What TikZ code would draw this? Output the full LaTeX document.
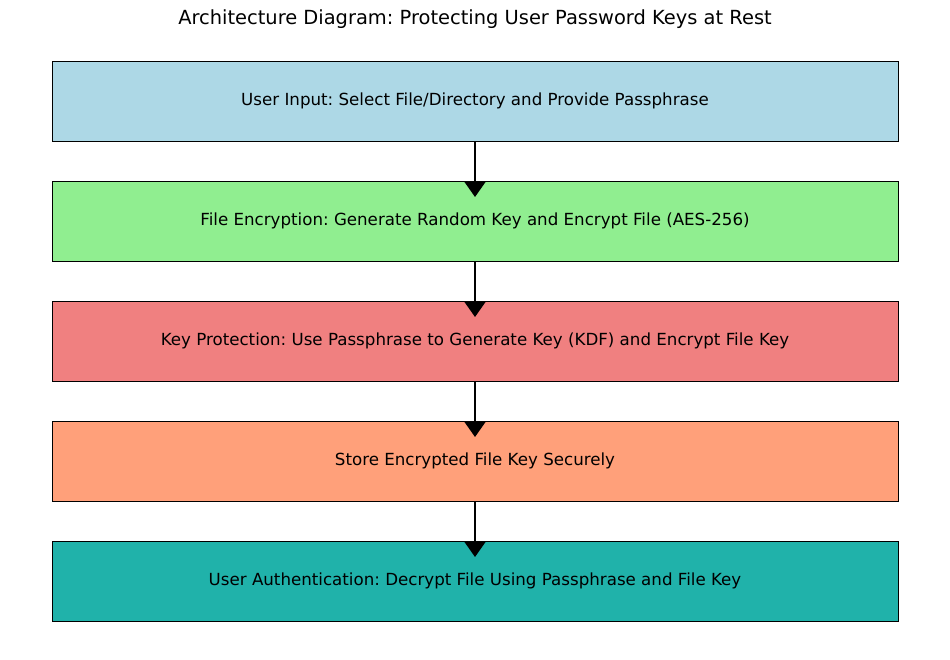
\documentclass[tikz,border=0pt]{standalone}
\usepackage{fontspec}
\setmainfont{DejaVu Sans}
\usetikzlibrary{arrows.meta}
\frenchspacing
\definecolor{cA}{RGB}{173,216,230}
\definecolor{cB}{RGB}{144,238,144}
\definecolor{cC}{RGB}{240,128,128}
\definecolor{cD}{RGB}{255,160,122}
\definecolor{cE}{RGB}{32,178,170}
\tikzset{
  stagebox/.style={draw=black, line width=0.9pt, minimum width=846pt, minimum height=80pt, inner sep=0pt, font=\fontsize{16.67}{19}\selectfont, text=black},
  flow/.style={line width=2pt, draw=black, -{Triangle[width=22pt,length=16pt]}}
}
\begin{document}
\begin{tikzpicture}[x=1pt,y=-1pt]
\useasboundingbox (0,0) rectangle (950,659);
\node[font=\fontsize{19.44}{22}\selectfont] (title) at (475,19) {Architecture Diagram: Protecting User Password Keys at Rest};
\node[stagebox, fill=cA] (b1) at (475,101) {User Input: Select File/Directory and Provide Passphrase};
\node[stagebox, fill=cB] (b2) at (475,221) {File Encryption: Generate Random Key and Encrypt File (AES-256)};
\node[stagebox, fill=cC] (b3) at (475,341) {Key Protection: Use Passphrase to Generate Key (KDF) and Encrypt File Key};
\node[stagebox, fill=cD] (b4) at (475,461) {Store Encrypted File Key Securely};
\node[stagebox, fill=cE] (b5) at (475,581) {User Authentication: Decrypt File Using Passphrase and File Key};
\coordinate (t2) at (475,197);
\coordinate (t3) at (475,317);
\coordinate (t4) at (475,437);
\coordinate (t5) at (475,557);
\draw[flow] (b1.south) -- (t2);
\draw[flow] (b2.south) -- (t3);
\draw[flow] (b3.south) -- (t4);
\draw[flow] (b4.south) -- (t5);
\end{tikzpicture}
\end{document}
